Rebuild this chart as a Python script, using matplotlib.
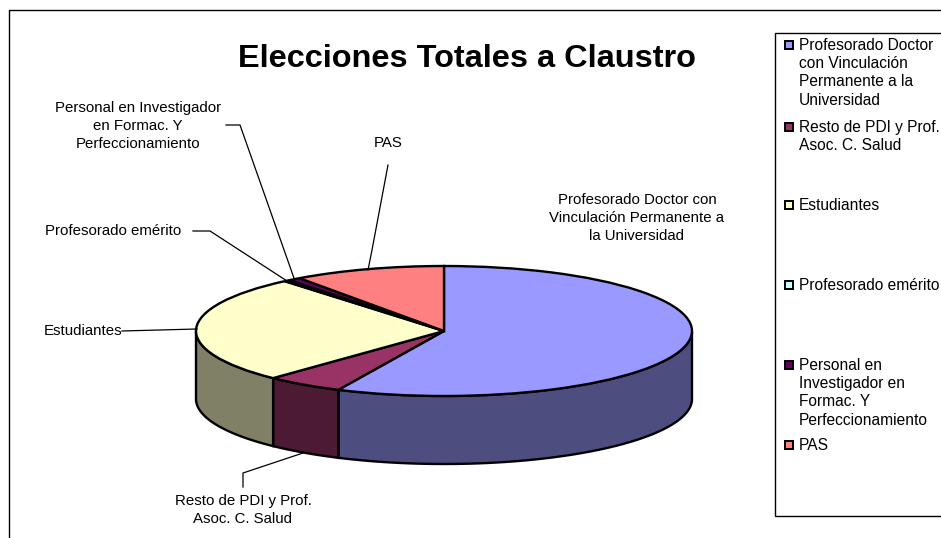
import numpy as np
import matplotlib
matplotlib.use("Agg")
import matplotlib.pyplot as plt
from matplotlib.patches import Rectangle

plt.rcParams['font.family'] = ['Liberation Sans', 'DejaVu Sans']

# shares, clockwise from the top
categories = ["Profesorado Doctor con Vinculación Permanente a la Universidad",
              "Resto de PDI y Prof. Asoc. C. Salud",
              "Estudiantes",
              "Profesorado emérito",
              "Personal en Investigador en Formac. Y Perfeccionamiento",
              "PAS"]
values = [57.0, 5.1, 26.8, 0.4, 0.8, 9.9]
colors = ["#9999FF", "#993366", "#FFFFCC", "#CCFFFF", "#660066", "#FF8080"]
side_colors = ["#4D4D80", "#4D1A33", "#808066", "#668080", "#330033", "#804040"]

legend_labels = ["Profesorado Doctor\ncon Vinculación\nPermanente a la\nUniversidad",
                 "Resto de PDI y Prof.\nAsoc. C. Salud",
                 "Estudiantes",
                 "Profesorado emérito",
                 "Personal en\nInvestigador en\nFormac. Y\nPerfeccionamiento",
                 "PAS"]
legend_y = [45, 127, 205, 285, 365, 445]

W, H = 941, 538
CX, CY, RX, RY, DEPTH = 444, 331, 248, 65, 68

fig = plt.figure(figsize=(W / 100, H / 100), dpi=100)

# pie axes: unit circle squashed to the tilted ellipse
ax = fig.add_axes([0, 0, 1, 1])
depth = DEPTH / RY
edges = np.cumsum([0] + values) / sum(values) * 2 * np.pi

# side wall first, only the part of the rim facing us
for i in range(len(values)):
    a = np.linspace(edges[i], edges[i + 1], 200)
    th = np.pi / 2 - a
    th = th[np.sin(th) <= 0]
    if len(th) == 0:
        continue
    xs = np.cos(th)
    ys = np.sin(th)
    ax.fill(np.r_[xs, xs[::-1]], np.r_[ys, ys[::-1] - depth],
            facecolor=side_colors[i], edgecolor="black", linewidth=1.7, zorder=1)

wedges, _ = ax.pie(values, colors=colors, startangle=90, counterclock=False,
                   radius=1, wedgeprops=dict(edgecolor="black", linewidth=1.7, zorder=2))
ax.set_aspect('auto')
ax.set_xlim((0 - CX) / RX, (W - CX) / RX)
ax.set_ylim((CY - H) / RY, CY / RY)
ax.axis('off')

# overlay in picture pixels for frame, legend, labels
ov = fig.add_axes([0, 0, 1, 1])
ov.set_xlim(0, W)
ov.set_ylim(H, 0)
ov.axis('off')
ov.patch.set_alpha(0)

ov.plot([9, 9, W], [H, 10, 10], color="black", lw=1)
ov.add_patch(Rectangle((775, 33), 200, 483, facecolor="white", edgecolor="black", lw=1))

ov.text(467, 59, "Elecciones Totales a Claustro", fontsize=23.4, fontweight="bold",
        ha="center", va="center")

label_fs = 10.8
spacing = 1.34
ov.text(637, 218, "Profesorado Doctor con\nVinculación Permanente a\nla Universidad",
        fontsize=label_fs, ha="center", va="center", linespacing=spacing)
ov.text(388, 143, "PAS", fontsize=label_fs, ha="center", va="center")
ov.text(138, 126, "Personal en Investigador\nen Formac. Y\nPerfeccionamiento",
        fontsize=label_fs, ha="center", va="center", linespacing=spacing)
ov.text(45, 231, "Profesorado emérito", fontsize=label_fs, ha="left", va="center")
ov.text(44, 331, "Estudiantes", fontsize=label_fs, ha="left", va="center")
ov.text(243, 510, "Resto de PDI y Prof.\nAsoc. C. Salud", fontsize=label_fs,
        ha="center", va="center", linespacing=spacing)

# leader lines
leaders = [([388, 372, 368], [165, 250, 270]),
           ([226, 240, 295], [125, 125, 281]),
           ([193, 210, 287], [231, 231, 281]),
           ([122, 197], [331, 329]),
           ([303, 243, 243], [453, 473, 487])]
for lx, ly in leaders:
    ov.plot(lx, ly, color="black", lw=0.9, zorder=3)

# legend
for lab, y, col in zip(legend_labels, legend_y, colors):
    ov.add_patch(Rectangle((785, y - 4), 8, 8, facecolor=col, edgecolor="black", lw=1.4))
    ov.text(799, y - 7, lab, fontsize=11.2, ha="left", va="top", linespacing=1.27)

fig.savefig("out.png", dpi=100)
